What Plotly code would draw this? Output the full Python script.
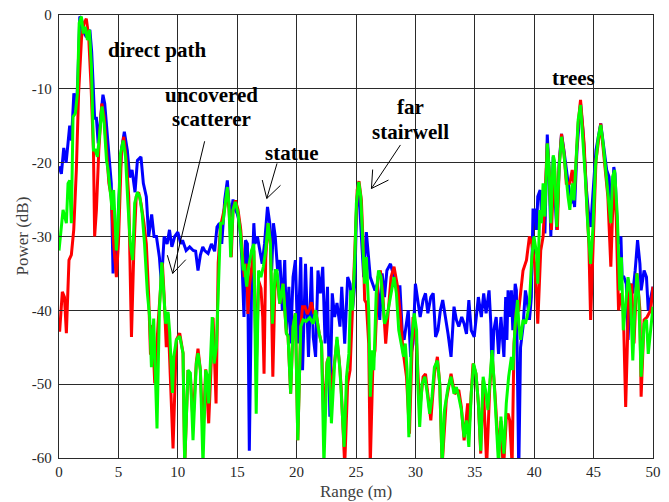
import math
import plotly.graph_objects as go

# ---------------- data ----------------
blue_x = [0.0,0.2,0.4,0.6,0.9,1.05,1.25,1.46,1.6,1.75,1.9,2.0,2.3,2.6,2.75,2.9,3.0,3.15,3.3,3.5,3.7,3.85,4.0,4.2,4.4,4.55,4.7,4.85,5.0,5.25,5.5,5.75,5.95,6.15,6.4,6.6,6.9,7.1,7.35,7.55,7.8,8.0,8.2,8.45,8.62,8.85,9.1,9.3,9.5,9.74,10.0,10.25,10.4,10.7,11.0,11.3,11.5,11.7,11.9,12.1,12.26,12.55,12.83,13.1,13.3,13.5,13.7,13.95,14.17,14.3,14.45,14.65,14.85,15.0,15.2,15.4,15.57,15.7,15.86,16.02,16.2,16.4,16.5,16.7,16.9,17.1,17.3,17.55,17.74,17.9,18.05,18.2,18.4,18.6,18.8,19.0,19.15,19.35,19.5,19.7,19.9,20.1,20.35,20.5,20.75,21.0,21.25,21.4,21.6,21.8,22.0,22.2,22.4,22.6,22.8,23.0,23.2,23.4,23.65,23.8,24.05,24.3,24.5,24.7,24.9,25.05,25.2,25.45,25.65,25.87,26.0,26.2,26.4,26.6,26.8,27.0,27.2,27.4,27.6,27.9,28.2,28.4,28.7,28.9,29.05,29.25,29.4,29.6,29.8,30.0,30.2,30.4,30.65,30.85,31.05,31.3,31.5,31.7,31.9,32.1,32.3,32.5,32.75,33.0,33.25,33.45,33.65,33.9,34.1,34.3,34.5,34.7,34.95,35.1,35.3,35.55,35.75,35.95,36.2,36.35,36.45,36.6,36.8,37.0,37.2,37.45,37.6,37.7,37.8,37.94,38.08,38.2,38.4,38.5,38.7,38.85,39.06,39.26,39.4,39.6,39.76,39.9,40.04,40.2,40.3,40.5,40.6,40.75,40.9,41.1,41.25,41.4,41.6,41.7,41.9,42.1,42.3,42.5,42.7,42.9,43.1,43.3,43.4,43.6,43.9,44.1,44.4,44.6,44.75,44.95,45.2,45.6,45.85,46.1,46.3,46.5,46.7,46.8,47.05,47.3,47.4,47.55,47.75,47.9,48.1,48.3,48.5,48.7,48.9,49.0,49.25,49.45,49.6,49.8,50.0]
blue_db = [-20.5,-21.5,-18,-20,-15,-17,-10.6,-13,-8,-0.2,-0.5,-2,-3,-2,-5,-10,-14,-14,-17.4,-14,-10.8,-12,-15,-19.7,-22.8,-35,-31,-34,-26.4,-18.3,-15.8,-18.3,-22,-21,-24,-19.7,-19.2,-22.8,-24.6,-30,-27,-30,-30,-32.8,-36.4,-30,-31,-29.1,-31.4,-30,-29.4,-31,-30.5,-31.9,-31.4,-31.9,-32,-34.6,-32.5,-31.4,-31.9,-32.3,-31,-32,-28.7,-28.2,-31,-25,-22.4,-25.5,-27.3,-25,-26.4,-26.9,-28.2,-33.2,-40.9,-30.5,-31,-59,-37.7,-28.2,-31,-30,-31.9,-33.7,-31,-26,-28.2,-34.6,-28.2,-30,-34.6,-33.2,-40,-33.2,-42.7,-36.8,-44.5,-35.5,-33.2,-44.5,-32.8,-48.1,-33.7,-46.3,-34.1,-43.6,-46.3,-34.6,-37.7,-34.1,-44.5,-36.8,-54.4,-37.7,-40.9,-39,-42.2,-36.8,-44.5,-35.5,-36.4,-40,-36.4,-26,-22.8,-31,-35.5,-29.4,-31.9,-35.5,-36.4,-37.3,-36.4,-41.3,-35,-38.2,-34.6,-33.7,-35.5,-36.8,-36.8,-43.2,-44,-41.8,-40,-46.3,-44.5,-36.4,-39,-40.9,-38.6,-37.7,-40.4,-38.2,-37.7,-43.6,-42.7,-40,-38.6,-40.4,-43.2,-46.3,-39.5,-41.3,-42.2,-40.9,-41.8,-43.2,-38.6,-42.7,-43.6,-41.3,-38.2,-40.9,-37.7,-40.4,-37.3,-41.8,-49,-42.7,-40.9,-45.9,-40.9,-46.3,-38.2,-44,-37.3,-40.9,-37.3,-42.7,-36.4,-37.3,-62,-45,-42.2,-37.3,-38.6,-41.3,-38.2,-26.4,-26.4,-29.1,-24.6,-23.7,-26.4,-24.2,-29.6,-16.2,-21,-30,-19.2,-23.3,-29.1,-20.1,-16.1,-18.3,-21,-23.3,-25.5,-24.6,-26,-18.3,-12,-15.6,-23.7,-27.3,-28.7,-24.6,-18.3,-14.7,-18.3,-21,-21.9,-27.3,-20.6,-21.5,-31,-30,-35.5,-35.5,-36.4,-44,-36.4,-37.7,-34.6,-30.5,-33.7,-37.3,-34.6,-35.5,-40,-38.2,-36.8]

red_x = [0.0,0.06,0.28,0.46,0.62,0.84,1.04,1.24,1.46,1.65,1.9,2.1,2.3,2.5,2.7,2.9,3.0,3.15,3.35,3.6,3.8,4.0,4.2,4.4,4.6,4.83,5.0,5.25,5.45,5.67,5.87,6.0,6.1,6.3,6.5,6.7,6.9,7.15,7.35,7.55,7.7,7.85,8.06,8.34,8.7,8.85,9.03,9.17,9.38,9.6,9.88,10.16,10.44,10.58,10.86,11.06,11.28,11.56,11.7,11.9,12.12,12.35,12.6,12.83,12.97,13.1,13.22,13.4,13.6,13.9,14.1,14.2,14.4,14.5,14.65,14.85,15.07,15.3,15.5,15.6,15.8,15.9,16.05,16.25,16.4,16.6,16.8,17.0,17.15,17.26,17.4,17.6,17.8,18.0,18.2,18.3,18.58,18.86,19.14,19.28,19.5,19.7,19.9,20.1,20.35,20.5,20.7,20.9,21.1,21.25,21.45,21.6,21.9,22.1,22.3,22.56,22.7,22.93,23.0,23.2,23.4,23.6,23.75,24.05,24.3,24.5,24.7,24.9,25.1,25.25,25.45,25.6,25.73,25.87,26.07,26.2,26.43,26.6,26.85,27.05,27.25,27.5,27.7,27.95,28.2,28.5,28.7,28.95,29.25,29.5,29.8,30.1,30.36,30.65,30.85,31.05,31.3,31.6,31.85,32.05,32.25,32.6,33.0,33.3,33.65,33.87,34.1,34.4,34.5,34.85,35.1,35.3,35.5,35.7,36.0,36.25,36.45,36.7,37.0,37.2,37.4,37.66,37.8,37.94,38.14,38.3,38.5,38.7,38.86,39.06,39.35,39.6,39.8,40.04,40.2,40.3,40.55,40.75,40.9,41.1,41.25,41.45,41.7,41.95,42.1,42.3,42.5,42.7,43.0,43.2,43.4,43.7,43.9,44.2,44.4,44.6,44.75,44.95,45.2,45.6,45.95,46.2,46.45,46.7,46.9,47.1,47.34,47.5,47.7,47.96,48.2,48.4,48.65,48.9,49.0,49.25,49.5,49.8,50.0]
red_db = [-42.7,-42.7,-37.5,-38.2,-43.1,-33.2,-32.5,-29.1,-21,-10.6,-3,-1.1,-0.5,-3,-9.7,-18.3,-30,-26.4,-18.3,-12,-13.8,-18.8,-22.8,-24.6,-31,-35.5,-31,-18.8,-16.5,-19.7,-24.6,-35.5,-43.6,-31.9,-24.6,-24,-25.5,-28.2,-31,-38,-46,-42,-49.9,-41.8,-33.6,-38,-45,-40.5,-49.5,-58.7,-44,-43.1,-45.8,-61,-48.1,-49,-55,-47,-45.2,-48.1,-57,-48,-55.3,-47.2,-41,-47,-52.6,-33.6,-28.6,-26.4,-24.6,-23.7,-28.7,-32.8,-26.4,-25.1,-26.4,-29.1,-33.7,-35.5,-33.7,-40.5,-36.4,-33.7,-31.9,-48,-36,-37,-41,-48.6,-33,-28.2,-31,-49,-35,-34.6,-39.1,-36.4,-43.1,-43.5,-51.3,-42.2,-40.4,-57.6,-42.2,-39.5,-39.5,-40.5,-39.8,-38.9,-40.5,-40,-43.1,-44.5,-56,-47,-46.3,-53,-49.5,-47,-44,-47,-50.4,-61,-49.9,-48.1,-40,-31,-23.7,-22.5,-25,-31,-38.6,-39,-44.5,-61,-46.8,-45.4,-35.5,-34.6,-37.7,-44.5,-40,-35.5,-34.1,-36.8,-40,-45.4,-49,-56.7,-40.9,-44.5,-53.5,-49,-48.6,-51.3,-54.9,-48.6,-46.3,-50,-61,-52.2,-48.6,-51.3,-50.8,-53.1,-57.6,-52.6,-56.7,-47.2,-48.6,-52.6,-59.4,-49.5,-61,-50.8,-45.9,-51.3,-59.4,-55,-62,-54.4,-54,-54.9,-61,-44.5,-40,-40,-37.7,-34.6,-33.2,-30,-31,-33.7,-37.7,-41.8,-31.9,-30,-25,-17.4,-21,-29.1,-20.1,-29.1,-20.5,-16.1,-18.5,-22.8,-22.8,-21,-23.7,-14.7,-11.5,-17.4,-24.6,-31,-41.3,-31,-19.7,-14.7,-20.1,-24.6,-34.1,-21.9,-27.3,-40,-37.7,-40,-53.1,-37.7,-36.4,-44.5,-35,-40,-51.7,-41.3,-40.9,-40,-36.8]

green_x = [0.0,0.2,0.34,0.48,0.62,0.76,0.9,1.04,1.18,1.38,1.55,1.7,1.88,2.05,2.2,2.39,2.56,2.73,2.9,3.06,3.23,3.4,3.62,3.8,4.0,4.13,4.3,4.47,4.6,4.83,4.97,5.17,5.4,5.6,5.8,6.0,6.2,6.37,6.6,6.8,7.0,7.2,7.44,7.63,7.78,7.97,8.25,8.45,8.65,8.85,8.98,9.18,9.32,9.55,9.66,9.88,10.16,10.44,10.58,10.86,11.06,11.28,11.56,11.7,11.9,12.12,12.35,12.5,12.6,12.9,13.05,13.25,13.45,13.6,13.8,14.0,14.17,14.3,14.45,14.65,14.85,15.07,15.3,15.5,15.6,15.8,15.97,16.2,16.4,16.6,16.8,17.0,17.2,17.4,17.6,17.8,17.96,18.2,18.35,18.58,18.86,19.14,19.28,19.5,19.7,19.9,20.1,20.35,20.55,20.8,21.1,21.4,21.6,21.9,22.1,22.3,22.56,22.7,22.93,23.2,23.4,23.65,23.8,24.0,24.2,24.4,24.55,24.7,24.9,25.03,25.23,25.4,25.6,25.73,25.87,26.07,26.2,26.37,26.5,26.7,26.9,27.1,27.4,27.6,27.9,28.2,28.4,28.6,28.8,29.0,29.15,29.3,29.45,29.66,29.9,30.1,30.2,30.36,30.56,30.8,31.0,31.2,31.4,31.6,31.85,32.05,32.25,32.45,32.75,33.0,33.25,33.45,33.65,33.87,34.1,34.3,34.5,34.7,34.9,35.1,35.3,35.5,35.7,35.9,36.1,36.35,36.45,36.6,36.8,37.0,37.2,37.45,37.65,37.85,38.08,38.2,38.4,38.6,38.7,38.86,39.06,39.26,39.4,39.6,39.8,39.98,40.2,40.3,40.47,40.6,40.75,40.9,41.1,41.25,41.4,41.6,41.7,41.9,42.1,42.3,42.5,42.7,42.85,43.0,43.2,43.35,43.5,43.7,43.9,44.1,44.3,44.5,44.75,44.95,45.15,45.4,45.6,45.8,46.0,46.2,46.45,46.6,46.77,47.0,47.2,47.34,47.5,47.7,47.9,48.1,48.3,48.46,48.65,48.8,49.0,49.25,49.45,49.6,49.8,50.0]
green_db = [-31.9,-28.2,-26.4,-27.3,-28.2,-22.8,-22.4,-28.2,-13.8,-13.3,-10.6,-1.1,-0.2,-2.5,-1.6,-3.4,-2,-7,-18.3,-18.3,-19.2,-16.5,-12.4,-14.7,-19.7,-21,-23.3,-26.4,-23.7,-31.9,-28.7,-18.8,-17,-19.2,-25.5,-31,-33.2,-25.5,-24,-24.6,-26.9,-31,-37.7,-40.9,-47.7,-41.1,-56,-40,-33.5,-38,-41.8,-40.2,-43,-51.2,-46.3,-44,-43.5,-45.8,-61,-48.1,-48.5,-57.6,-47.2,-45.8,-48.1,-61,-48.1,-49,-52.6,-40.9,-47.2,-45,-33.7,-28.2,-28.2,-25.5,-23.3,-25.5,-32.8,-26.4,-25.3,-26.9,-30,-34.6,-33.7,-36.8,-34.1,-31.9,-31,-54,-34.6,-35.5,-34.1,-31.9,-28.2,-31,-41.8,-34.6,-34.6,-39.1,-36.4,-43.1,-43.5,-51.3,-42.2,-40.4,-57.6,-42.2,-41.3,-41.5,-41,-41.8,-40,-43.1,-44.5,-61,-47.2,-46.3,-55.3,-47.2,-43.6,-48.1,-52.6,-58.5,-49,-45.9,-37.3,-40,-33.2,-25.5,-22.6,-24.6,-31.9,-36.4,-32.8,-40,-51.7,-45.4,-48.1,-37.7,-34.6,-35.5,-41.8,-40.9,-38.2,-35.5,-37.7,-42.7,-44.5,-46.3,-44.5,-48.1,-57.2,-44.5,-40.4,-42.7,-49.9,-55.8,-49.9,-49,-51.3,-54,-51.7,-47.7,-46.8,-49.9,-61,-53.5,-50.4,-49,-51.3,-50.4,-51.7,-53.5,-57.2,-54.9,-58.5,-51.3,-47.2,-48.6,-52.6,-59,-49,-50.8,-53.5,-48.1,-45.4,-49,-55.3,-61,-54.4,-59.4,-52.6,-49,-46.3,-48.1,-41.8,-38.6,-41.8,-44,-41.3,-41.8,-40.9,-39.1,-32.8,-30,-32.3,-36.4,-26.4,-28.2,-22.8,-27.3,-17.4,-20.6,-28.2,-19,-19.7,-28.7,-20.6,-16.5,-18.8,-22.4,-24.6,-26.4,-22.8,-25.1,-19.7,-14.2,-12.2,-16.5,-21.9,-28.2,-33.7,-28.7,-20.6,-16.5,-14.9,-17.4,-21,-24.6,-28.2,-21.9,-21,-27.3,-37.3,-32.8,-42.7,-39.1,-35.5,-37.7,-46.8,-40,-35,-38.2,-49,-41.8,-41.3,-45.9,-42.7,-39.5]

x_ticks = [0, 5, 10, 15, 20, 25, 30, 35, 40, 45, 50]
x_ticklabels = ["0", "5", "10", "15", "20", "25", "30", "35", "40", "45", "50"]
y_ticks = [-60, -50, -40, -30, -20, -10, 0]
y_ticklabels = ["-60", "-50", "-40", "-30", "-20", "-10", "0"]

# annotation texts (text lines with their data positions)
labels = [
    ("direct path", 8.27, -4.76),
    ("uncovered", 12.87, -10.9),
    ("scatterer", 12.87, -14.1),
    ("statue", 19.59, -18.75),
    ("far", 29.56, -12.4),
    ("stairwell", 29.56, -15.8),
    ("trees", 43.3, -8.48),
]
# arrows: (tail_x, tail_y, tip_x, tip_y)
arrows = [
    (12.26, -17.1, 9.57, -35.0),
    (18.35, -20.1, 17.49, -24.85),
    (28.74, -17.6, 26.3, -23.5),
]

# ---------------- layout geometry ----------------
W, H = 669, 502
ML, MR, MT, MB = 59, 16, 15, 44
XR = [0, 50]
YR = [-60, 0]
pw = W - ML - MR
ph = H - MT - MB
sx = pw / (XR[1] - XR[0])   # px per x unit
sy = ph / (YR[1] - YR[0])   # px per dB

SERIF = "Liberation Serif"

fig = go.Figure()
for xs, ys, col in [(blue_x, blue_db, "#0000FF"), (red_x, red_db, "#FF0000"), (green_x, green_db, "#00FF00")]:
    fig.add_trace(go.Scatter(x=xs, y=ys, mode="lines",
                             line=dict(color=col, width=3), showlegend=False,
                             hoverinfo="skip"))

shapes = []
HEAD = 19.0
ANG = math.radians(30)
for tx, ty, hx, hy in arrows:
    shapes.append(dict(type="line", xref="x", yref="y", x0=tx, y0=ty, x1=hx, y1=hy,
                       line=dict(color="black", width=1)))
    # direction tip -> tail in pixel space (y down)
    dxp = (tx - hx) * sx
    dyp = -(ty - hy) * sy
    L = math.hypot(dxp, dyp)
    ux, uy = dxp / L, dyp / L
    for s in (-1, 1):
        c, sn = math.cos(s * ANG), math.sin(s * ANG)
        vx = ux * c - uy * sn
        vy = ux * sn + uy * c
        ex = hx + vx * HEAD / sx
        ey = hy - vy * HEAD / sy
        shapes.append(dict(type="line", xref="x", yref="y", x0=hx, y0=hy, x1=ex, y1=ey,
                           line=dict(color="black", width=1)))

annotations = []
for txt, ax_, ay_ in labels:
    annotations.append(dict(x=ax_, y=ay_, xref="x", yref="y", text=txt, showarrow=False,
                            xanchor="center", yanchor="middle",
                            font=dict(family=SERIF, size=21, color="black", weight="bold")))
annotations.append(dict(x=-37 / pw, y=0.5, xref="paper", yref="paper", text="Power (dB)",
                        showarrow=False, textangle=-90, xanchor="center", yanchor="middle",
                        font=dict(family=SERIF, size=17, color="#404040")))
annotations.append(dict(x=0.5, y=-33 / ph, xref="paper", yref="paper", text="Range (m)",
                        showarrow=False, xanchor="center", yanchor="middle",
                        font=dict(family=SERIF, size=17, color="#404040")))

axis_common = dict(showgrid=True, gridcolor="#2a2a2a", gridwidth=1.4,
                   showline=True, linecolor="#2a2a2a", linewidth=1.4, mirror=True,
                   ticks="inside", ticklen=5, tickcolor="#2a2a2a",
                   zeroline=False, tickfont=dict(family=SERIF, size=15, color="#262626"))

fig.update_layout(
    width=W, height=H,
    margin=dict(l=ML, r=MR, t=MT, b=MB, autoexpand=False),
    paper_bgcolor="white", plot_bgcolor="white",
    xaxis=dict(range=XR, tickvals=x_ticks, ticktext=x_ticklabels, ticklabelstandoff=0, **axis_common),
    yaxis=dict(range=YR, tickvals=y_ticks, ticktext=y_ticklabels, ticklabelstandoff=3, **axis_common),
    shapes=shapes, annotations=annotations,
)

fig.write_html("out.html")
